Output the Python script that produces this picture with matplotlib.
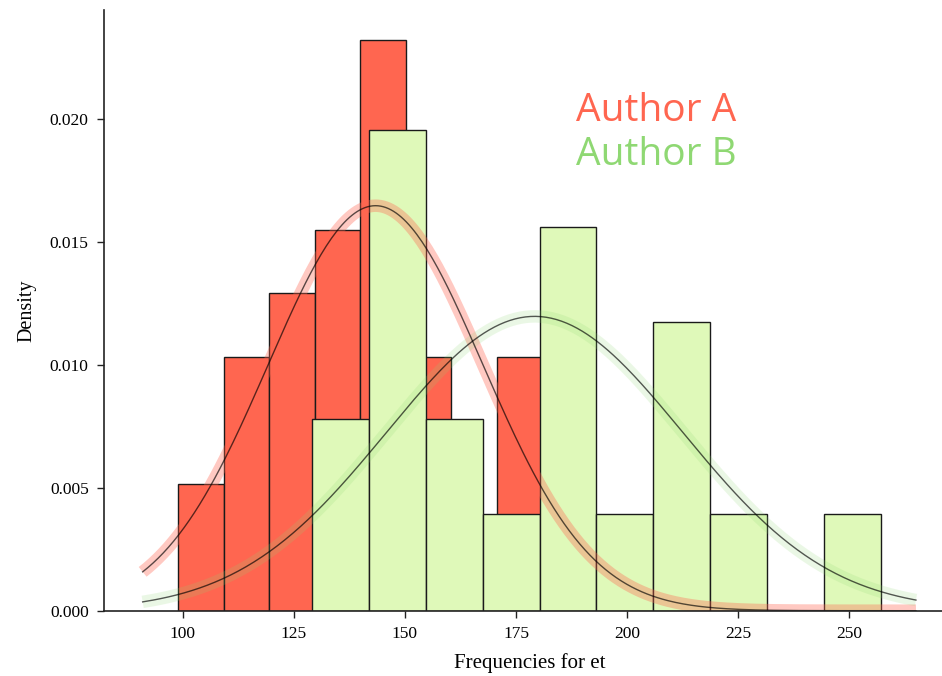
import numpy as np
import matplotlib
matplotlib.use("Agg")
import matplotlib.pyplot as plt

# ---- data ----
red_edges = [98.96, 109.21, 119.46, 129.71, 139.96, 150.21, 160.46, 170.71, 180.96]
red_density = [0.00516, 0.01033, 0.01294, 0.01551, 0.02323, 0.01033, 0.0, 0.01033]

green_edges = [129.2, 142.0, 154.8, 167.5, 180.3, 193.1, 205.9, 218.7, 231.5, 244.3, 257.1]
green_density = [0.0078, 0.01957, 0.0078, 0.00392, 0.01562, 0.00392, 0.01175, 0.00392, 0.0, 0.00392]

red_mean, red_std = 143.4, 24.2
green_mean, green_std = 179.2, 33.3
curve_range = (91, 265)

xticks = [100, 125, 150, 175, 200, 225, 250]
yticks = [0.000, 0.005, 0.010, 0.015, 0.020]

RED = "#FF6650"
GREEN_BAR = "#DFF9B9"
GREEN_TXT = "#8FD873"

serif = ["Liberation Serif", "DejaVu Serif"]

fig = plt.figure(figsize=(9.42, 6.76), dpi=100)
ax = fig.add_axes([0.1104, 0.0966, 0.903, 0.8886])

def bars(edges, dens, color):
    edges = np.asarray(edges)
    ax.bar(edges[:-1], dens, width=np.diff(edges), align="edge",
           color=color, edgecolor="#1a1a1a", linewidth=1.0)

bars(red_edges, red_density, RED)
bars(green_edges, green_density, GREEN_BAR)

xs = np.linspace(curve_range[0], curve_range[1], 300)
def pdf(x, m, s):
    return np.exp(-0.5 * ((x - m) / s) ** 2) / (s * np.sqrt(2 * np.pi))

ax.plot(xs, pdf(xs, red_mean, red_std), color=RED, alpha=0.35, lw=9, solid_capstyle="butt")
ax.plot(xs, pdf(xs, green_mean, green_std), color=GREEN_TXT, alpha=0.18, lw=9, solid_capstyle="butt")
ax.plot(xs, pdf(xs, red_mean, red_std), color="black", alpha=0.65, lw=1)
ax.plot(xs, pdf(xs, green_mean, green_std), color="black", alpha=0.65, lw=1)

ax.set_xlim(82.3, 273.7)
ax.set_ylim(0, 0.02445)
ax.set_xticks(xticks)
ax.set_xticklabels([str(t) for t in xticks], fontfamily=serif, fontsize=12.5)
ax.set_yticks(yticks)
ax.set_yticklabels([f"{t:.3f}" for t in yticks], fontfamily=serif, fontsize=12.5)
ax.tick_params(direction="out", length=5, width=1, color="#222222", pad=6)
for s in ["top", "right"]:
    ax.spines[s].set_visible(False)
for s in ["left", "bottom"]:
    ax.spines[s].set_linewidth(1.2)
    ax.spines[s].set_color("#222222")

ax.set_xlabel("Frequencies for et", fontfamily=serif, fontsize=15, labelpad=8)
ax.set_ylabel("Density", fontfamily=serif, fontsize=14.5, labelpad=10)

fig.text(0.611, 0.821, "Author A", color=RED, fontsize=28, fontfamily=["Open Sans", "DejaVu Sans"], va="baseline")
fig.text(0.611, 0.756, "Author B", color=GREEN_TXT, fontsize=28, fontfamily=["Open Sans", "DejaVu Sans"], va="baseline")

fig.savefig("out.png", dpi=100)
